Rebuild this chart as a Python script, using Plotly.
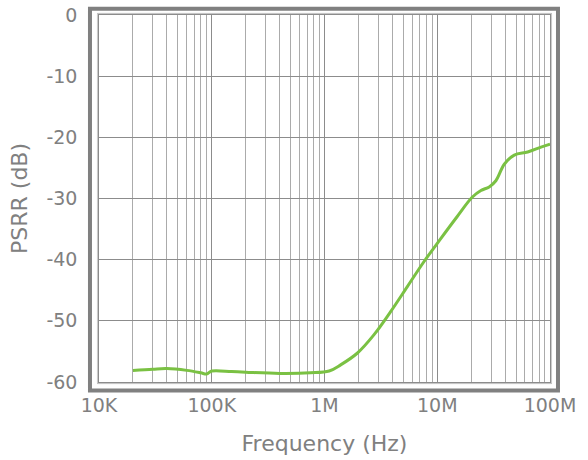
import plotly.graph_objects as go

# Data
freq_hz = [20e3, 30e3, 40e3, 60e3, 80e3, 90e3, 100e3, 150e3, 200e3, 400e3, 750e3,
           1.1e6, 1.39e6, 1.95e6, 2.74e6, 3.86e6, 5.43e6, 7.64e6, 10.7e6, 15.1e6,
           20.4e6, 24.4e6, 28.9e6, 33.1e6, 39.3e6, 48.2e6, 63.4e6, 83.2e6, 100e6]
psrr_db = [-58.1, -57.9, -57.8, -58.1, -58.5, -58.7, -58.2, -58.3, -58.4, -58.6, -58.5,
           -58.2, -57.2, -55.3, -52.3, -48.5, -44.4, -40.3, -36.6, -32.9,
           -29.8, -28.7, -28.1, -27.1, -24.4, -22.9, -22.4, -21.6, -21.1]

x_tick_vals = [1e4, 1e5, 1e6, 1e7, 1e8]
x_tick_text = ["10K", "100K", "1M", "10M", "100M"]
y_tick_vals = [0, -10, -20, -30, -40, -50, -60]
y_tick_text = ["0", "-10", "-20", "-30", "-40", "-50", "-60"]

minor_vals = [m * d for d in [1e4, 1e5, 1e6, 1e7] for m in range(2, 10)]

FONT = "DejaVu Sans"
TXT = "#808080"
GRID_MAJOR = "#8c8c8c"
GRID_MINOR = "#ababab"

fig = go.Figure()
fig.add_trace(go.Scatter(
    x=freq_hz, y=psrr_db, mode="lines",
    line=dict(color="#7ac143", width=3, shape="spline", smoothing=1.0),
    hoverinfo="skip", showlegend=False,
))

fig.update_layout(
    width=588, height=460,
    margin=dict(l=99, r=38, t=15, b=78),
    paper_bgcolor="white", plot_bgcolor="white",
    font=dict(family=FONT, color=TXT, size=19),
    xaxis=dict(
        type="log", range=[4, 8], automargin=False,
        tickmode="array", tickvals=x_tick_vals, ticktext=x_tick_text,
        showgrid=True, gridcolor=GRID_MAJOR, gridwidth=1,
        minor=dict(tickmode="array", tickvals=minor_vals, showgrid=True,
                   gridcolor=GRID_MINOR, gridwidth=1, ticks=""),
        showline=True, linecolor=GRID_MAJOR, linewidth=1.5, mirror=True,
        ticks="", ticklabelstandoff=5, ticklabeloverflow="allow",
        tickfont=dict(family=FONT, size=19, color=TXT),
        title=dict(text="Frequency (Hz)", font=dict(family=FONT, size=22, color=TXT), standoff=21),
        zeroline=False,
    ),
    yaxis=dict(
        range=[-60, 0], automargin=False,
        tickmode="array", tickvals=y_tick_vals, ticktext=y_tick_text,
        showgrid=True, gridcolor=GRID_MAJOR, gridwidth=1,
        showline=True, linecolor=GRID_MAJOR, linewidth=1.5, mirror=True,
        ticks="", ticklabelstandoff=16, ticklabeloverflow="allow",
        tickfont=dict(family=FONT, size=19, color=TXT),
        title=dict(text="PSRR (dB)", font=dict(family=FONT, size=22, color=TXT), standoff=13),
        zeroline=False,
    ),
    shapes=[
        dict(type="rect", xref="paper", yref="paper",
             x0=-0.0200, x1=1.0177, y0=-0.0232, y1=1.0172,
             line=dict(color="#808080", width=4), layer="above"),
        dict(type="rect", xref="paper", yref="paper",
             x0=-0.0035, x1=1.0035, y0=-0.0045, y1=1.0045,
             line=dict(color="#d0d0d0", width=1), layer="above"),
    ],
)

fig.write_html("out.html", config={"displayModeBar": False},
               post_script="document.body.style.margin='0px';")
